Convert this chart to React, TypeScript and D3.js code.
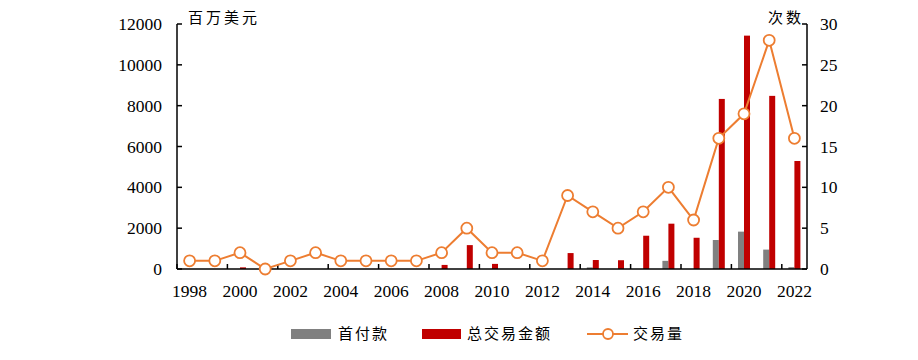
import React from "react";
import * as d3 from "d3";

const years = ["1998","1999","2000","2001","2002","2003","2004","2005","2006","2007","2008","2009","2010","2011","2012","2013","2014","2015","2016","2017","2018","2019","2020","2021","2022"];
const upfront = [0,0,0,0,0,0,0,0,0,0,0,0,0,0,0,0,80,0,0,400,0,1420,1830,950,90];
const totalValue = [0,0,80,0,0,0,0,0,0,0,200,1170,250,0,0,780,440,430,1630,2220,1530,8330,11430,8480,5290];
const dealCount = [1,1,2,0,1,2,1,1,1,1,2,5,2,2,1,9,7,5,7,10,6,16,19,28,16];
const leftTicks = [0,2000,4000,6000,8000,10000,12000];
const rightTicks = [0,5,10,15,20,25,30];
const xLabels = ["1998","2000","2002","2004","2006","2008","2010","2012","2014","2016","2018","2020","2022"];
const seriesNames = ["首付款", "总交易金额", "交易量"];

const W = 918, H = 360;
const left = 177, right = 807, top = 24, bottom = 269;
const GRAY = "#808080", RED = "#C00000", ORANGE = "#ED7D31";
const serif = "'Liberation Serif', 'Times New Roman', serif";
const cjk = "'Noto Sans CJK SC', sans-serif";

export default function App() {
  const x = d3.scaleBand<string>().domain(years).range([left, right]).padding(0);
  const yL = d3.scaleLinear().domain([0, 12000]).range([bottom, top]);
  const yR = d3.scaleLinear().domain([0, 30]).range([bottom, top]);
  const bw = x.bandwidth();
  const barW = 6;
  const cx = (y: string) => (x(y) as number) + bw / 2;
  const line = d3.line<number>().x((_, i) => cx(years[i])).y((d) => yR(d));
  const xTickPos = d3.range(0, years.length + 1, 2).map((i) => left + i * bw);

  return (
    <svg width={W} height={H} style={{ position: "absolute", left: 0, top: 0 }}>
      <rect width={W} height={H} fill="#fff" />
      {/* bars */}
      {years.map((yr, i) => (
        <g key={yr}>
          {upfront[i] > 0 && (
            <rect x={cx(yr) - barW} y={yL(upfront[i])} width={barW} height={bottom - yL(upfront[i])} fill={GRAY} />
          )}
          {totalValue[i] > 0 && (
            <rect x={cx(yr)} y={yL(totalValue[i])} width={barW} height={bottom - yL(totalValue[i])} fill={RED} />
          )}
        </g>
      ))}
      {/* axes */}
      <g stroke="#000" strokeWidth={1.5} fill="none">
        <line x1={left} y1={top} x2={left} y2={bottom} />
        <line x1={right} y1={top} x2={right} y2={bottom} />
        <line x1={left} y1={bottom} x2={right} y2={bottom} />
        {leftTicks.map((t) => (
          <line key={"l" + t} x1={left} x2={left + 5} y1={yL(t)} y2={yL(t)} />
        ))}
        {rightTicks.map((t) => (
          <line key={"r" + t} x1={right - 5} x2={right} y1={yR(t)} y2={yR(t)} />
        ))}
        {xTickPos.map((p, i) => (
          <line key={"x" + i} x1={p} x2={p} y1={bottom} y2={bottom - 5} />
        ))}
      </g>
      <g fontFamily={serif} fontSize={17.5} fill="#000">
        {leftTicks.map((t) => (
          <text key={"lt" + t} x={162} y={yL(t)} dy="0.35em" textAnchor="end">{t}</text>
        ))}
        {rightTicks.map((t) => (
          <text key={"rt" + t} x={820} y={yR(t)} dy="0.35em" textAnchor="start">{t}</text>
        ))}
        {xLabels.map((l) => (
          <text key={"xt" + l} x={cx(l)} y={297} textAnchor="middle">{l}</text>
        ))}
      </g>
      <text x={188} y={23} fontFamily={cjk} fontSize={15} letterSpacing={3}>百万美元</text>
      <text x={768} y={23} fontFamily={cjk} fontSize={15} letterSpacing={3}>次数</text>
      {/* line */}
      <path d={line(dealCount) || ""} fill="none" stroke={ORANGE} strokeWidth={2} />
      {dealCount.map((d, i) => (
        <circle key={"c" + i} cx={cx(years[i])} cy={yR(d)} r={5.5} fill="#fff" stroke={ORANGE} strokeWidth={1.8} />
      ))}
      {/* legend */}
      <rect x={291} y={329} width={40} height={10} fill={GRAY} />
      <text x={338} y={339} fontFamily={cjk} fontSize={15} letterSpacing={2}>{seriesNames[0]}</text>
      <rect x={422} y={329} width={39} height={10} fill={RED} />
      <text x={467} y={339} fontFamily={cjk} fontSize={15} letterSpacing={2}>{seriesNames[1]}</text>
      <line x1={587} x2={628} y1={334} y2={334} stroke={ORANGE} strokeWidth={2} />
      <circle cx={608} cy={334} r={5} fill="#fff" stroke={ORANGE} strokeWidth={1.8} />
      <text x={633} y={339} fontFamily={cjk} fontSize={15} letterSpacing={2}>{seriesNames[2]}</text>
    </svg>
  );
}
